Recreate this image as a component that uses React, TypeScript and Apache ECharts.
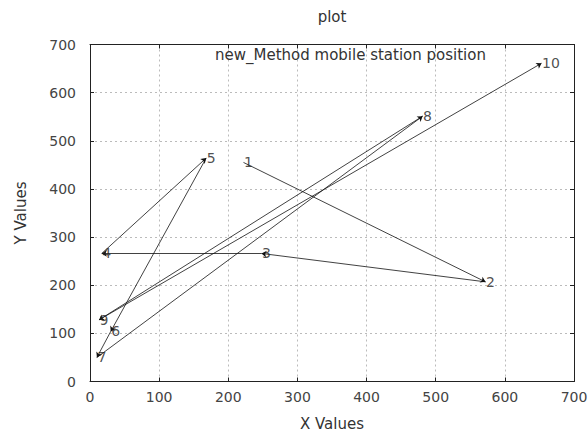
import React, { useEffect, useRef } from "react";
import * as echarts from "echarts";

const pointLabels = ["1", "2", "3", "4", "5", "6", "7", "8", "9", "10"];
const xValues = [222, 572, 248, 17, 168, 30, 10, 481, 13, 653];
const yValues = [455, 207, 266, 266, 464, 104, 50, 551, 128, 661];
const xTicks = [0, 100, 200, 300, 400, 500, 600, 700];
const yTicks = [0, 100, 200, 300, 400, 500, 600, 700];
const chartTitle = "plot";
const annotation = "new_Method mobile station position";
const xName = "X Values";
const yName = "Y Values";

const FONT = "DejaVu Sans";

export default function App() {
  const ref = useRef<HTMLDivElement>(null);
  useEffect(() => {
    if (!ref.current) return;
    const chart = echarts.init(ref.current, null, { renderer: "svg" });
    const pts = xValues.map((x, i) => [x, yValues[i]]);
    const segs = pts.slice(0, -1).map((p, i) => ({ coords: [p, pts[i + 1]] }));
    const xMin = xTicks[0];
    const xMax = xTicks[xTicks.length - 1];
    const yMin = yTicks[0];
    const yMax = yTicks[yTicks.length - 1];
    const step = xTicks[1] - xTicks[0];
    const ystep = yTicks[1] - yTicks[0];
    const axisCommon = {
      axisLine: { show: true, onZero: false, lineStyle: { color: "#222", width: 1 } },
      axisTick: { show: true, inside: true, length: 4, lineStyle: { color: "#222" } },
    };
    chart.setOption({
      animation: false,
      backgroundColor: "#fff",
      title: [
        {
          text: chartTitle,
          left: 332,
          textAlign: "center",
          top: 9,
          padding: 0,
          textStyle: { fontFamily: FONT, fontSize: 15, fontWeight: "normal", color: "#333" },
        },
        {
          text: annotation,
          left: 215,
          top: 47,
          padding: 0,
          textStyle: { fontFamily: FONT, fontSize: 15, fontWeight: "normal", color: "#333" },
        },
      ],
      grid: {
        left: 90,
        top: 44.5,
        right: 14,
        bottom: 51.5,
        containLabel: false,
        outerBoundsMode: "none",
      },
      xAxis: [
        {
          type: "value",
          min: xMin,
          max: xMax,
          interval: step,
          position: "bottom",
          name: xName,
          nameLocation: "middle",
          nameGap: 35,
          nameTextStyle: { fontFamily: FONT, fontSize: 15, color: "#333" },
          ...axisCommon,
          axisLabel: { fontFamily: FONT, fontSize: 14, color: "#444", margin: 8 },
          splitLine: { show: true, lineStyle: { color: "#bbb", type: [2, 3], width: 1 } },
        },
        {
          type: "value",
          min: xMin,
          max: xMax,
          interval: step,
          position: "top",
          ...axisCommon,
          axisLabel: { show: false },
          splitLine: { show: false },
        },
      ],
      yAxis: [
        {
          type: "value",
          min: yMin,
          max: yMax,
          interval: ystep,
          position: "left",
          name: yName,
          nameLocation: "middle",
          nameGap: 62,
          nameTextStyle: { fontFamily: FONT, fontSize: 15, color: "#333" },
          ...axisCommon,
          axisLabel: { fontFamily: FONT, fontSize: 14, color: "#444", margin: 14 },
          splitLine: { show: true, lineStyle: { color: "#bbb", type: [2, 3], width: 1 } },
        },
        {
          type: "value",
          min: yMin,
          max: yMax,
          interval: ystep,
          position: "right",
          ...axisCommon,
          axisLabel: { show: false },
          splitLine: { show: false },
        },
      ],
      series: [
        {
          type: "lines",
          coordinateSystem: "cartesian2d",
          xAxisIndex: 0,
          yAxisIndex: 0,
          symbol: ["none", "arrow"],
          symbolSize: [3, 5],
          lineStyle: { color: "#111", width: 0.8, opacity: 1 },
          data: segs,
          silent: true,
        },
        {
          type: "scatter",
          xAxisIndex: 0,
          yAxisIndex: 0,
          symbolSize: 1,
          itemStyle: { color: "rgba(0,0,0,0)" },
          label: {
            show: true,
            position: "right",
            distance: 0,
            formatter: (p: any) => pointLabels[p.dataIndex],
            fontFamily: FONT,
            fontSize: 14,
            color: "#222",
          },
          data: pts,
          silent: true,
        },
      ],
    });
    return () => chart.dispose();
  }, []);
  return (
    <div
      ref={ref}
      style={{ position: "fixed", left: 0, top: 0, width: 588, height: 433, background: "#fff" }}
    />
  );
}
